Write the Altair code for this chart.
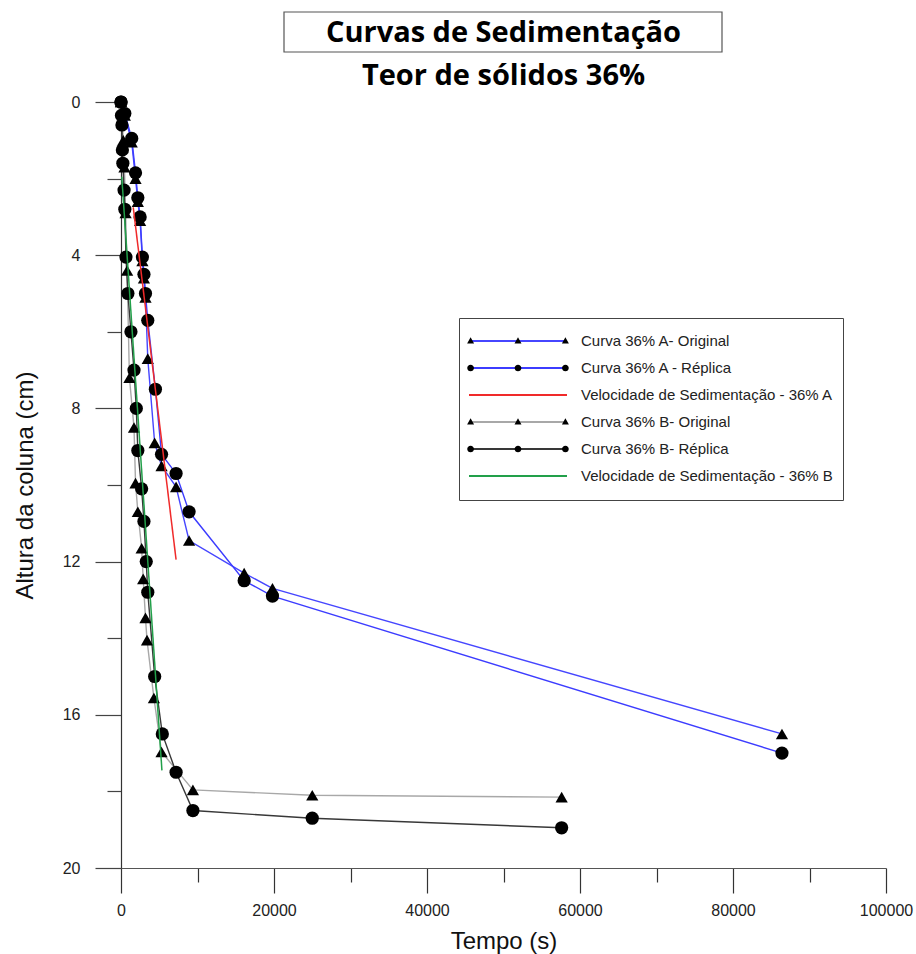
import altair as alt
import pandas as pd

# ---------------- data ----------------
TITLE_LINES = ["Curvas de Sedimentação", "Teor de sólidos 36%"]

SERIES = [
    "Curva 36% A- Original",
    "Curva 36% A - Réplica",
    "Velocidade de Sedimentação - 36% A",
    "Curva 36% B- Original",
    "Curva 36% B- Réplica",
    "Velocidade de Sedimentação - 36% B",
]
MARKER_KEYS = ["m1", "m2", "m3", "m4", "m5", "m6"]
COLORS = ["#4646ff", "#3c3cff", "#f02a2a", "#a8a8a8", "#383838", "#22a04a"]

A_ORIG_T = [0, 500, 1400, 1900, 2200, 2500, 2800, 3000, 3200, 3500, 4400, 5300, 7200, 8900, 16100, 19800, 86400]
A_ORIG_H = [0, 0.35, 1.05, 2.0, 2.6, 3.1, 4.15, 4.6, 5.1, 6.7, 8.9, 9.5, 10.05, 11.45, 12.3, 12.7, 16.5]

A_REP_T = [0, 500, 1400, 1900, 2200, 2500, 2800, 3000, 3200, 3500, 4500, 5300, 7200, 8900, 16100, 19800, 86400]
A_REP_H = [0, 0.3, 0.95, 1.85, 2.5, 3.0, 4.05, 4.5, 5.0, 5.7, 7.5, 9.2, 9.7, 10.7, 12.5, 12.9, 17.0]

A_VEL_T = [1600, 7200]
A_VEL_H = [2.75, 11.95]

B_ORIG_T = [0, 150, 300, 450, 600, 800, 1100, 1700, 1900, 2200, 2700, 2900, 3200, 3400, 4300, 5300, 9400, 25000, 57600]
B_ORIG_H = [0, 0.5, 1.0, 1.7, 2.9, 4.4, 7.2, 8.5, 9.95, 10.7, 11.65, 12.45, 13.47, 14.05, 15.56, 16.97, 17.96, 18.1, 18.15]

B_REP_T = [0, 60, 120, 180, 240, 400, 500, 650, 900, 1300, 1700, 2000, 2200, 2700, 3000, 3300, 3500, 4400, 5400, 7200, 9400, 25000, 57600]
B_REP_H = [0, 0.35, 0.6, 1.25, 1.6, 2.3, 2.8, 4.05, 5.0, 6.0, 7.0, 8.0, 9.1, 10.1, 10.95, 12.0, 12.8, 15.0, 16.5, 17.5, 18.5, 18.7, 18.95]

B_VEL_T = [100, 5350]
B_VEL_H = [1.95, 17.45]

X_TICKS = list(range(0, 100001, 10000))
Y_TICKS = list(range(0, 21, 2))

# ---------------- table ----------------
rows = []
def add(name, ts, hs, kind):
    for i, (t, h) in enumerate(zip(ts, hs)):
        rows.append({"serie": name, "t": t, "h": h, "i": i, "kind": kind})

add(SERIES[0], A_ORIG_T, A_ORIG_H, "tri")
add(SERIES[1], A_REP_T, A_REP_H, "circ")
add(SERIES[2], A_VEL_T, A_VEL_H, "vel")
add(SERIES[3], B_ORIG_T, B_ORIG_H, "tri")
add(SERIES[4], B_REP_T, B_REP_H, "circ")
add(SERIES[5], B_VEL_T, B_VEL_H, "vel")
df = pd.DataFrame(rows)

FONT = "Liberation Sans"

# ---------------- legend symbol paths (symbol scale: 12 px per unit) ----------------
HX = 4.083   # half length of the legend line
EY = 0.82    # invisible vertical extent that sets the legend row height
EXT = f"M0,{-EY}L0,{-EY}M0,{EY}L0,{EY}M{-HX},0L{-HX},0M{HX},0L{HX},0"
LINE_PATH = f"M{-HX},0L{HX},0" + EXT

def tri(cx):
    return f"M{cx},-0.31L{cx + 0.29},0.21L{cx - 0.29},0.21Z"

def circ(cx, r=0.28):
    return (f"M{cx - r},0A{r},{r} 0 1,0 {cx + r},0"
            f"A{r},{r} 0 1,0 {cx - r},0Z")

MX = 3.95
TRI_PATH = EXT + tri(-MX) + tri(0) + tri(MX)
CIRC_PATH = EXT + circ(-MX) + circ(0) + circ(MX)
NONE_PATH = EXT
MARKER_PATHS = [TRI_PATH, CIRC_PATH, NONE_PATH, TRI_PATH, CIRC_PATH, NONE_PATH]

# ---------------- axes / scales ----------------
x_axis = alt.Axis(
    values=X_TICKS, format="d",
    labelExpr="datum.value % 20000 === 0 ? datum.label : ''",
    tickSize={"condition": {"test": "datum.value % 20000 === 0", "value": 25}, "value": 14},
    labelPadding=9, labelFont=FONT, labelFontSize=16, labelColor="#222",
    labelFlush=False, labelOverlap=False,
    title="Tempo (s)", titleFont=FONT, titleFontSize=24, titleFontWeight="normal",
    titleColor="#111", titleX=382.5, titleY=80, titleBaseline="alphabetic", titleAlign="center",
    grid=False, domainColor="#555", tickColor="#333", domainWidth=1.2, tickWidth=1.2,
)
y_axis = alt.Axis(
    values=Y_TICKS,
    labelExpr="datum.value % 4 === 0 ? datum.label : ''",
    tickSize={"condition": {"test": "datum.value % 4 === 0", "value": 26}, "value": 14},
    labelPadding=15, labelFont=FONT, labelFontSize=16, labelColor="#222",
    labelFlush=False, labelOverlap=False,
    title="Altura da coluna (cm)", titleFont=FONT, titleFontSize=24, titleFontWeight="normal",
    titleColor="#111", titleX=-89, titleY=383, titleAngle=270, titleAlign="center",
    titleBaseline="alphabetic",
    grid=False, domainColor="#333", tickColor="#444", domainWidth=1.2, tickWidth=1.2,
)
x_enc = alt.X("t:Q", scale=alt.Scale(domain=[0, 100000], nice=False, zero=False), axis=x_axis)
y_enc = alt.Y("h:Q", scale=alt.Scale(domain=[0, 20], nice=False, reverse=True), axis=y_axis)
color_scale = alt.Scale(domain=SERIES, range=COLORS)

LEG_X, LEG_Y = 338, 216
ROW_PAD = -3.7
legend_lines = alt.Legend(
    orient="none", legendX=LEG_X, legendY=LEG_Y, title=None,
    symbolType=LINE_PATH, symbolSize=576, symbolStrokeWidth=2, symbolOffset=36,
    labelFont=FONT, labelFontSize=15, labelColor="#222", labelOffset=50, labelLimit=400,
    padding=10, rowPadding=ROW_PAD, strokeColor="#444", fillColor="white",
)
legend_marks = alt.Legend(
    orient="none", legendX=LEG_X, legendY=LEG_Y, title=None,
    symbolSize=576, symbolStrokeWidth=2, symbolOffset=36,
    symbolFillColor="black", symbolStrokeColor="transparent",
    labelFont=FONT, labelFontSize=15, labelExpr="''", labelOffset=50,
    padding=10, rowPadding=ROW_PAD,
)

base = alt.Chart(df)

curves = base.transform_filter("datum.kind != 'vel'").mark_line(strokeWidth=1.4).encode(
    x=x_enc, y=y_enc,
    color=alt.Color("serie:N", scale=color_scale, legend=legend_lines),
    order="i:Q",
)
tris = base.transform_filter("datum.kind == 'tri'").mark_point(
    shape="triangle-up", filled=True, size=150, color="black", opacity=1
).encode(x=x_enc, y=y_enc)
circs = base.transform_filter("datum.kind == 'circ'").mark_point(
    shape="circle", filled=True, size=175, color="black", opacity=1
).encode(x=x_enc, y=y_enc)
vels = base.transform_filter("datum.kind == 'vel'").mark_line(strokeWidth=1.5).encode(
    x=x_enc, y=y_enc,
    color=alt.Color("serie:N", scale=color_scale, legend=None),
    order="i:Q",
)
legend_dummy = alt.Chart(pd.DataFrame({"serie_m": MARKER_KEYS})).transform_filter("false").mark_point(
    filled=True, color="black", opacity=1
).encode(
    shape=alt.Shape("serie_m:N", scale=alt.Scale(domain=MARKER_KEYS, range=MARKER_PATHS),
                    legend=legend_marks)
)

one = pd.DataFrame({"k": [0]})
title_box = alt.Chart(one).mark_rect(filled=False, stroke="#555", strokeWidth=1.2).encode(
    x=alt.value(163), x2=alt.value(601), y=alt.value(-90), y2=alt.value(-50)
)
title1 = alt.Chart(one).mark_text(
    font="Open Sans", fontSize=29, fontWeight="bold", align="center", baseline="alphabetic", color="#000"
).encode(x=alt.value(382.5), y=alt.value(-60), text=alt.value(TITLE_LINES[0]))
title2 = alt.Chart(one).mark_text(
    font="Open Sans", fontSize=29, fontWeight="bold", align="center", baseline="alphabetic", color="#000"
).encode(x=alt.value(382.5), y=alt.value(-17), text=alt.value(TITLE_LINES[1]))

chart = alt.layer(
    curves, tris, circs, vels, legend_dummy, title_box, title1, title2
).properties(
    width=765, height=766,
    autosize=alt.AutoSizeParams(type="none"),
    padding={"left": 121, "top": 102, "right": 30, "bottom": 86},
).configure_view(stroke="transparent")

chart.save("out.html", embed_options={"renderer": "svg", "actions": False})
